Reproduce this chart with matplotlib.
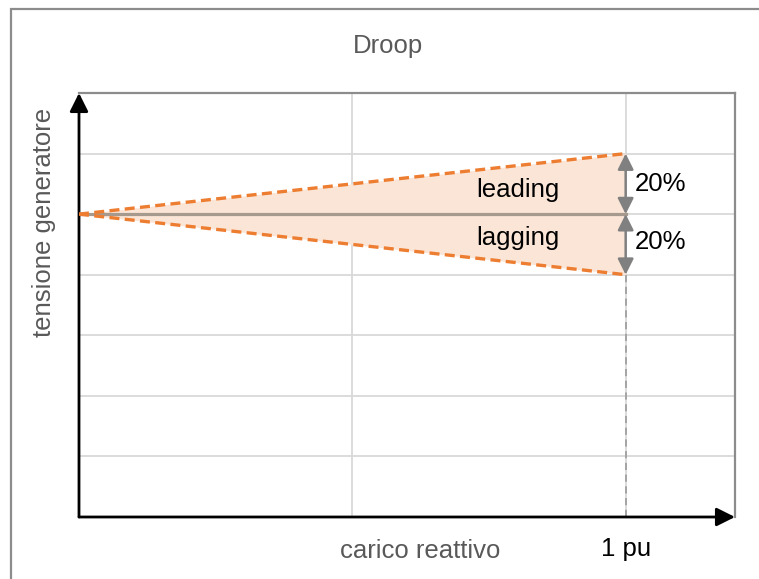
import matplotlib.pyplot as plt
from matplotlib.patches import Rectangle

plt.rcParams['font.family'] = ['Liberation Sans', 'DejaVu Sans']

# data
carico = [0.0, 1.0]
nominale = [1.0, 1.0]
leading = [1.0, 1.2]
lagging = [1.0, 0.8]
y_grid = [0.2, 0.4, 0.6, 0.8, 1.0, 1.2]
x_grid = [0.5, 1.0]
droop_label = "20%"

orange = '#ED7D31'
fill_col = '#FBE5D6'
grey_txt = '#595959'
fs = 18.5

fig = plt.figure(figsize=(7.59, 5.79), dpi=100)

# outer chart border (cropped at right/bottom)
fig.patches.append(Rectangle((11 / 759, -0.05), 1.1, (579 - 9) / 579 + 0.05,
                             transform=fig.transFigure, fill=False,
                             edgecolor='#8C8C8C', lw=1.6))

ax = fig.add_axes([79 / 759, (579 - 517) / 579, (735 - 79) / 759, (517 - 93) / 579])
ax.set_xlim(0, 1.2)
ax.set_ylim(0, 1.4)

ax.set_xticks(x_grid)
ax.set_yticks(y_grid)
ax.set_xticklabels([])
ax.set_yticklabels([])
ax.tick_params(length=0)
ax.grid(True, color='#D9D9D9', lw=1.3)
ax.set_axisbelow(True)

for s in ['top', 'right']:
    ax.spines[s].set_color('#8C8C8C')
    ax.spines[s].set_linewidth(1.6)
for s in ['left', 'bottom']:
    ax.spines[s].set_visible(False)

# area between leading and lagging
ax.fill_between(carico, lagging, leading, color=fill_col, lw=0, zorder=2)
ax.plot(carico, nominale, color='#A69A8E', lw=2.3, zorder=3)
ax.plot(carico, leading, color=orange, lw=2.4, ls=(0, (3, 1.6)), zorder=4)
ax.plot(carico, lagging, color=orange, lw=2.4, ls=(0, (3, 1.6)), zorder=4)

# 1 pu marker
ax.plot([carico[1], carico[1]], [0, lagging[1]], color='#A0A0A0', lw=1.3,
        ls=(0, (4, 2.5)), zorder=3)

# 20% arrows
for y_end in [leading[1], lagging[1]]:
    ax.annotate('', xy=(carico[1], y_end), xytext=(carico[1], nominale[1]),
                arrowprops=dict(arrowstyle='<|-|>', color='#808080', lw=1.8,
                                mutation_scale=24, shrinkA=0, shrinkB=0),
                zorder=5)

ax.text(0.802, 1.08, 'leading', ha='center', va='center', fontsize=fs)
ax.text(0.802, 0.922, 'lagging', ha='center', va='center', fontsize=fs)
ax.text(1.016, 1.1, droop_label, ha='left', va='center', fontsize=fs)
ax.text(1.016, 0.908, droop_label, ha='left', va='center', fontsize=fs)
ax.text(1.0, -0.106, '1 pu', ha='center', va='center', fontsize=fs, clip_on=False)

# axes with arrows
ax.annotate('', xy=(0, 1.0), xytext=(0, 0), xycoords='axes fraction',
            arrowprops=dict(arrowstyle='-|>', color='black', lw=2,
                            mutation_scale=28, shrinkA=0, shrinkB=0))
ax.annotate('', xy=(1.0, 0), xytext=(0, 0), xycoords='axes fraction',
            arrowprops=dict(arrowstyle='-|>', color='black', lw=2,
                            mutation_scale=28, shrinkA=0, shrinkB=0))

fig.text(388 / 759, (579 - 46) / 579, 'Droop', ha='center', va='center',
         fontsize=fs, color=grey_txt)
fig.text(420 / 759, (579 - 551) / 579, 'carico reattivo', ha='center', va='center',
         fontsize=fs, color=grey_txt)
fig.text(44 / 759, (579 - 222) / 579, 'tensione generatore', ha='center', va='center',
         rotation=90, fontsize=fs, color=grey_txt)

fig.savefig('out.png', dpi=100)
